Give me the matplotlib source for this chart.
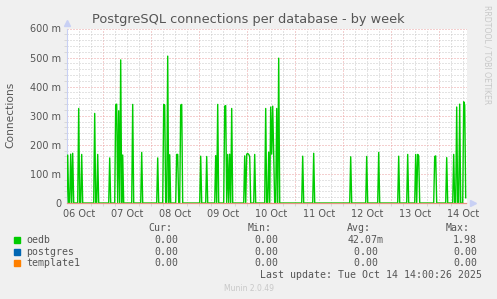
import numpy as np
import matplotlib
matplotlib.use('Agg')
import matplotlib.pyplot as plt
from matplotlib.patches import Rectangle

# hours counted from 06 Oct 00:00, 30 min samples, values in milli-connections
spike_hours = [6.5, 8.0, 9.0, 12.0, 13.5, 20.0, 21.5, 27.5, 30.5, 31.0, 32.0, 33.0,
               34.0, 39.0, 43.5, 51.5, 54.5, 55.0, 56.5, 57.5, 61.0, 61.5, 63.0, 63.5,
               73.0, 76.0, 80.5, 81.5, 85.0, 85.5, 86.5, 87.5, 88.5, 95.0, 96.0, 96.5,
               97.0, 97.5, 100.0, 105.5, 107.0, 108.0, 108.5, 109.0, 109.5, 111.0, 112.0,
               124.0, 129.5, 148.0, 156.0, 162.0, 172.0, 176.5, 180.5, 181.5, 182.0,
               190.0, 190.5, 196.0, 199.5, 201.0, 202.5, 204.5, 205.0, 205.5]
spike_values = [165, 168, 171, 325, 167, 308, 167, 155, 338, 340, 317, 492,
                165, 339, 174, 155, 339, 337, 505, 166, 167, 167, 337, 339,
                161, 160, 163, 339, 333, 335, 167, 168, 325, 162, 168, 170,
                167, 160, 167, 325, 175, 330, 168, 333, 171, 325, 498,
                161, 171, 159, 160, 174, 161, 167, 167, 167, 162,
                160, 162, 156, 167, 330, 340, 348, 337, 18]

day_labels = ['06 Oct', '07 Oct', '08 Oct', '09 Oct', '10 Oct', '11 Oct', '12 Oct', '13 Oct', '14 Oct']
y_ticks = [0, 100, 200, 300, 400, 500, 600]
y_labels = ['0', '100 m', '200 m', '300 m', '400 m', '500 m', '600 m']

names = ['oedb', 'postgres', 'template1']
colors = ['#00cc00', '#0066b3', '#ff8000']
cur = ['0.00', '0.00', '0.00']
mins = ['0.00', '0.00', '0.00']
avgs = ['42.07m', '0.00 ', '0.00 ']
maxs = ['1.98', '0.00', '0.00']

t = np.arange(6.0, 206.0, 0.5)
oedb = np.zeros(len(t))
for h, v in zip(spike_hours, spike_values):
    oedb[int(round((h - 6.0) / 0.5))] = v
zero = np.zeros(len(t))

W, H = 497, 299
fig = plt.figure(figsize=(W / 100, H / 100), dpi=100)
fig.patch.set_facecolor('#f0f0f0')

def fx(x):
    return x / W

def fy(y):
    return 1 - y / H

minor_c = '#c8c8c8'
major_c = '#eba0a0'
dot = (0, (1, 2))

ax = fig.add_axes([fx(66.7), fy(203), 400 / W, 174.5 / H])
ax.set_facecolor('white')
ax.set_xlim(6, 206)
ax.set_ylim(0, 600)

# grid
for h in range(12, 206, 6):
    if h % 24:
        ax.axvline(h, color=minor_c, lw=0.72, ls=dot, zorder=0)
for h in range(24, 206, 24):
    ax.axvline(h, color=major_c, lw=0.72, ls=dot, zorder=0)
for v in range(20, 601, 20):
    c = major_c if v % 100 == 0 else minor_c
    ax.axhline(v, color=c, lw=0.72, ls=dot, zorder=0)

ax.plot(t, oedb, color=colors[0], lw=1.0, zorder=3)
ax.plot(t, zero, color=colors[1], lw=0.72, zorder=4, clip_on=False)
ax.plot(t, zero, color='#e89482', lw=0.9, zorder=5, clip_on=False)

for s in ['top', 'right', 'bottom']:
    ax.spines[s].set_visible(False)
ax.spines['left'].set_color('#c8d0f4')
ax.plot([0], [1.03], marker='^', color='#c8d0f4', ms=4, transform=ax.transAxes, clip_on=False)
ax.plot([1.015], [0], marker='>', color='#c8d0f4', ms=4, transform=ax.transAxes, clip_on=False)

ax.set_xticks([12 + 24 * i for i in range(len(day_labels))])
ax.set_xticklabels(day_labels)
ax.set_yticks(y_ticks)
ax.set_yticklabels(y_labels)
ax.tick_params(length=0, labelsize=7, colors='#555555', pad=4)

# small tick marks outside the axes
ax.set_xticks(list(range(12, 206, 6)), minor=True)
ax.set_yticks(list(range(0, 601, 20)), minor=True)
ax.tick_params(which='minor', length=2.5, width=0.72, color='#d8d8d8')

fig.text(fx(10), fy(114.5), 'Connections', rotation=90, ha='center', va='center',
         fontsize=7.7, color='#555555')
fig.text(0.5, fy(19), 'PostgreSQL connections per database - by week',
         ha='center', va='center', fontsize=9.3, color='#555555')
fig.text(fx(487), fy(5), 'RRDTOOL / TOBI OETIKER', rotation=270, ha='center', va='top',
         fontsize=5.6, color='#c8c8c8')

mono = 'DejaVu Sans Mono'
fs = 7.1
for x, lab in [(160, 'Cur:'), (260, 'Min:'), (359, 'Avg:'), (458, 'Max:')]:
    fig.text(fx(x), fy(228), lab, ha='center', va='center', family=mono, fontsize=fs, color='#555555')
rows_y = [239.7, 251.7, 263.3]
for i, name in enumerate(names):
    y = rows_y[i]
    fig.add_artist(Rectangle((fx(14), fy(y + 3)), 6 / W, 6 / H, color=colors[i], transform=fig.transFigure))
    fig.text(fx(26), fy(y), name, ha='left', va='center', family=mono, fontsize=fs, color='#555555')
    fig.text(fx(178.5), fy(y), cur[i], ha='right', va='center', family=mono, fontsize=fs, color='#555555')
    fig.text(fx(278.5), fy(y), mins[i], ha='right', va='center', family=mono, fontsize=fs, color='#555555')
    fig.text(fx(384), fy(y), avgs[i], ha='right', va='center', family=mono, fontsize=fs, color='#555555')
    fig.text(fx(477), fy(y), maxs[i], ha='right', va='center', family=mono, fontsize=fs, color='#555555')
fig.text(fx(482.5), fy(275.5), 'Last update: Tue Oct 14 14:00:26 2025', ha='right', va='center',
         family=mono, fontsize=fs, color='#555555')
fig.text(fx(249), fy(288.5), 'Munin 2.0.49', ha='center', va='center', fontsize=5.5, color='#c8c8c8')

fig.savefig('out.png', dpi=100, facecolor=fig.get_facecolor())
